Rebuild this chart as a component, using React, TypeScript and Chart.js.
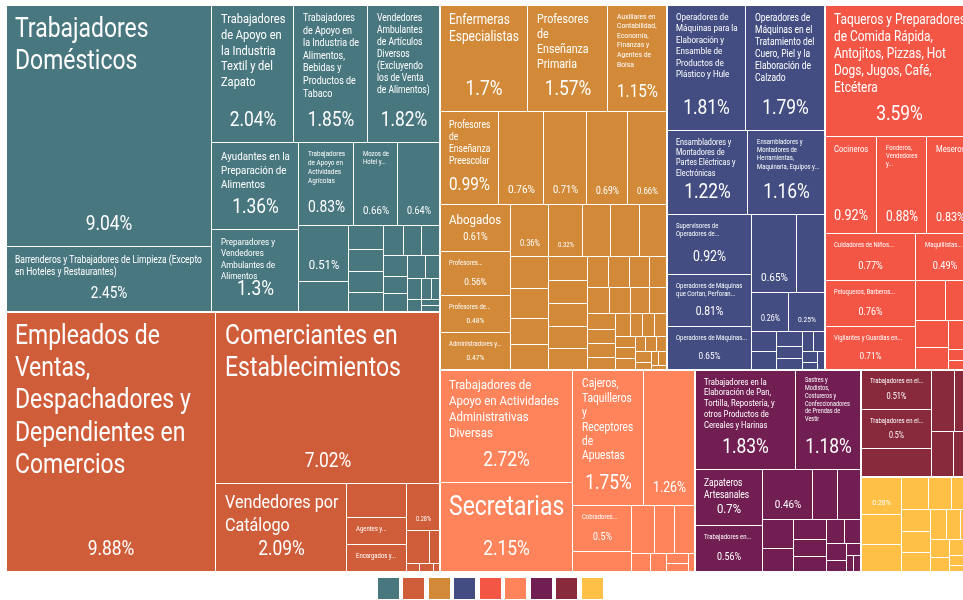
import React, { useEffect, useRef } from "react";
import { Chart, registerables } from "chart.js";

Chart.register(...registerables);

// ---------- DATA (share of workers, %) ----------
const tealNames = [
  "Trabajadores Domésticos",
  "Barrenderos y Trabajadores de Limpieza (Excepto en Hoteles y Restaurantes)",
  "Trabajadores de Apoyo en la Industria Textil y del Zapato",
  "Trabajadores de Apoyo en la Industria de Alimentos, Bebidas y Productos de Tabaco",
  "Vendedores Ambulantes de Artículos Diversos (Excluyendo los de Venta de Alimentos)",
  "Ayudantes en la Preparación de Alimentos",
  "Preparadores y Vendedores Ambulantes de Alimentos",
  "Trabajadores de Apoyo en Actividades Agrícolas",
  "Mozos de Hotel y...",
];
const tealValues = [9.04, 2.45, 2.04, 1.85, 1.82, 1.36, 1.3, 0.83, 0.66, 0.64, 0.51, 0.27, 0.15, 0.14, 0.13, 0.12, 0.11, 0.1, 0.1, 0.09, 0.08, 0.08, 0.07, 0.06, 0.05, 0.04, 0.03, 0.03, 0.02, 0.02];

const orangeNames = [
  "Empleados de Ventas, Despachadores y Dependientes en Comercios",
  "Comerciantes en Establecimientos",
  "Vendedores por Catálogo",
  "",
  "Agentes y...",
  "Encargados y...",
];
const orangeValues = [9.88, 7.02, 2.09, 0.36, 0.3, 0.29, 0.28, 0.14, 0.06, 0.02, 0.02, 0.01];

const ochreNames = [
  "Enfermeras Especialistas",
  "Profesores de Enseñanza Primaria",
  "Auxiliares en Contabilidad, Economía, Finanzas y Agentes de Bolsa",
  "Profesores de Enseñanza Preescolar",
  "", "", "", "",
  "Abogados",
  "Profesores...",
  "Profesores de...",
  "Administradores y...",
];
const ochreValues = [1.7, 1.57, 1.15, 0.99, 0.76, 0.71, 0.69, 0.66, 0.61, 0.56, 0.48, 0.47, 0.36, 0.32, 0.27, 0.27, 0.26, 0.22, 0.2, 0.18, 0.17, 0.17, 0.17, 0.16, 0.16, 0.15, 0.12, 0.12, 0.11, 0.1, 0.1, 0.1, 0.09, 0.08, 0.08, 0.07, 0.07, 0.06, 0.06, 0.05, 0.05, 0.05, 0.04, 0.04, 0.04, 0.03, 0.03, 0.03, 0.03, 0.02, 0.02, 0.02, 0.01];

const blueNames = [
  "Operadores de Máquinas para la Elaboración y Ensamble de Productos de Plástico y Hule",
  "Operadores de Máquinas en el Tratamiento del Cuero, Piel y la Elaboración de Calzado",
  "Ensambladores y Montadores de Partes Eléctricas y Electrónicas",
  "Ensambladores y Montadores de Herramientas, Maquinaria, Equipos y...",
  "Supervisores de Operadores de...",
  "Operadores de Máquinas que Cortan, Perforan...",
  "Operadores de Máquinas...",
];
const blueValues = [1.81, 1.79, 1.22, 1.16, 0.92, 0.81, 0.65, 0.65, 0.39, 0.26, 0.25, 0.09, 0.08, 0.07, 0.06, 0.05, 0.04, 0.04, 0.03, 0.02, 0.02];

const redNames = [
  "Taqueros y Preparadores de Comida Rápida, Antojitos, Pizzas, Hot Dogs, Jugos, Café, Etcétera",
  "Cocineros",
  "Fonderos, Vendedores y...",
  "Meseros",
  "Cuidadores de Niños...",
  "Peluqueros, Barberos...",
  "Vigilantes y Guardias en...",
  "Maquillistas...",
];
const redValues = [3.59, 0.92, 0.88, 0.83, 0.77, 0.76, 0.71, 0.49, 0.22, 0.2, 0.17, 0.13, 0.08, 0.05, 0.04, 0.03, 0.02];

const salmonNames = [
  "Trabajadores de Apoyo en Actividades Administrativas Diversas",
  "Secretarias",
  "Cajeros, Taquilleros y Receptores de Apuestas",
  "",
  "Cobradores...",
];
const salmonValues = [2.72, 2.15, 1.75, 1.26, 0.5, 0.21, 0.2, 0.18, 0.17, 0.06, 0.05, 0.04, 0.03, 0.02];

const purpleNames = [
  "Trabajadores en la Elaboración de Pan, Tortilla, Repostería, y otros Productos de Cereales y Harinas",
  "Sastres y Modistos, Costureros y Confeccionadores de Prendas de Vestir",
  "Zapateros Artesanales",
  "Trabajadores en...",
];
const purpleValues = [1.83, 1.18, 0.7, 0.56, 0.46, 0.23, 0.21, 0.17, 0.13, 0.12, 0.1, 0.09, 0.08, 0.07, 0.06, 0.04, 0.03, 0.02, 0.02];

const wineNames = ["Trabajadores en el...", "Trabajadores en el..."];
const wineValues = [0.51, 0.5, 0.36, 0.26, 0.22, 0.18, 0.16];

const yellowNames: string[] = [];
const yellowValues = [0.28, 0.22, 0.2, 0.16, 0.14, 0.13, 0.12, 0.11, 0.1, 0.09, 0.08, 0.07, 0.06, 0.05, 0.04, 0.03, 0.03, 0.02, 0.02];

const groupNameLists = [tealNames, orangeNames, ochreNames, blueNames, redNames, salmonNames, purpleNames, wineNames, yellowNames];
const groupValueLists = [tealValues, orangeValues, ochreValues, blueValues, redValues, salmonValues, purpleValues, wineValues, yellowValues];

// ---------- STYLE ----------
const groupColors = ["#48777F", "#D05D3A", "#D28A38", "#434D82", "#F45646", "#FF845B", "#711F52", "#89293C", "#FFC048"];
const FONT_FAMILY = "Roboto, 'Noto Sans', sans-serif";
const CONDENSE = 0.85;

type Rect = { x0: number; y0: number; x1: number; y1: number };

// D3-style squarified treemap tiling (golden ratio)
function squarify(values: number[], x0: number, y0: number, x1: number, y1: number): Rect[] {
  const ratio = (1 + Math.sqrt(5)) / 2;
  const out: Rect[] = new Array(values.length);
  let value = values.reduce((a, b) => a + b, 0);
  const n = values.length;
  let i0 = 0;
  let i1 = 0;
  while (i0 < n) {
    const dx = x1 - x0;
    const dy = y1 - y0;
    let sumValue = values[i1++];
    let minValue = sumValue;
    let maxValue = sumValue;
    const alpha = Math.max(dy / dx, dx / dy) / (value * ratio);
    let beta = sumValue * sumValue * alpha;
    let minRatio = Math.max(maxValue / beta, beta / minValue);
    for (; i1 < n; ++i1) {
      const nv = values[i1];
      sumValue += nv;
      if (nv < minValue) minValue = nv;
      if (nv > maxValue) maxValue = nv;
      beta = sumValue * sumValue * alpha;
      const newRatio = Math.max(maxValue / beta, beta / minValue);
      if (newRatio > minRatio) {
        sumValue -= nv;
        break;
      }
      minRatio = newRatio;
    }
    if (dx < dy) {
      const yy = value ? y0 + (dy * sumValue) / value : y1;
      let x = x0;
      const k = dx / sumValue;
      for (let i = i0; i < i1; i++) {
        const w = values[i] * k;
        out[i] = { x0: x, y0, x1: x + w, y1: yy };
        x += w;
      }
      y0 = yy;
    } else {
      const xx = value ? x0 + (dx * sumValue) / value : x1;
      let y = y0;
      const k = dy / sumValue;
      for (let i = i0; i < i1; i++) {
        const h = values[i] * k;
        out[i] = { x0, y0: y, x1: xx, y1: y + h };
        y += h;
      }
      x0 = xx;
    }
    value -= sumValue;
    i0 = i1;
  }
  return out;
}

function setFont(ctx: CanvasRenderingContext2D, size: number) {
  ctx.font = `${size}px ${FONT_FAMILY}`;
}
function textW(ctx: CanvasRenderingContext2D, s: string, size: number) {
  setFont(ctx, size);
  return ctx.measureText(s).width * CONDENSE;
}
function wrap(ctx: CanvasRenderingContext2D, text: string, size: number, maxW: number): string[] | null {
  const words = text.split(" ");
  const lines: string[] = [];
  let cur = "";
  for (const w of words) {
    if (textW(ctx, w, size) > maxW) return null;
    const t = cur ? cur + " " + w : w;
    if (textW(ctx, t, size) <= maxW) cur = t;
    else {
      lines.push(cur);
      cur = w;
    }
  }
  if (cur) lines.push(cur);
  return lines;
}
function drawText(ctx: CanvasRenderingContext2D, s: string, x: number, y: number, size: number, align: CanvasTextAlign) {
  ctx.save();
  ctx.translate(x, y);
  ctx.scale(CONDENSE, 1);
  setFont(ctx, size);
  ctx.textAlign = align;
  ctx.textBaseline = "alphabetic";
  ctx.fillText(s, 0, 0);
  ctx.restore();
}
function fmtShare(v: number) {
  return `${parseFloat(v.toFixed(2))}%`;
}

function drawCellText(ctx: CanvasRenderingContext2D, r: Rect, name: string, value: number) {
  const x0 = Math.round(r.x0), x1 = Math.round(r.x1), y0 = Math.round(r.y0), y1 = Math.round(r.y1);
  const w = x1 - x0;
  const h = y1 - y0;
  if (w < 20 || h < 16) return;
  const padX = 9;
  const shH = Math.min(50, (h - 10) * 0.5);
  const share = fmtShare(value);
  const shareUnit = textW(ctx, share, 100) / 100;
  const shareF = Math.min(20.5, shH * 0.58, (w - 18) / shareUnit);
  const showShare = shareF >= 6.5 && shH >= 12.5;
  const shareCy = y1 - (6.5 + 0.85 * shareF);
  ctx.save();
  ctx.beginPath();
  ctx.rect(x0, y0, w - 1, h - 1);
  ctx.clip();
  ctx.fillStyle = "#ffffff";
  if (name) {
    const truncated = name.endsWith("...");
    const boxW = truncated ? w - 13 : w - 17;
    const boxH = showShare ? Math.min(h - shH + 3, shareCy - shareF * 0.4 - y0 - 4) : h - 10;
    if (boxW > 10 && boxH > 6) {
      const unit = textW(ctx, name, 100) / 100;
      const mod = 1.165 + (boxW / boxH) * 0.1;
      let F = Math.min(truncated ? 7 : 27, Math.sqrt((boxW * boxH) / (unit * 1.2 * mod)));
      F = Math.floor(F * 2) / 2;
      let lines: string[] | null = null;
      for (; F >= 6; F -= 0.5) {
        const l = wrap(ctx, name, F, boxW);
        if (l && l.length * F * 1.2 <= boxH) {
          lines = l;
          break;
        }
      }
      if (lines) {
        lines.forEach((ln, i) => drawText(ctx, ln, x0 + padX, y0 + 6 + i * F * 1.2 + F * 0.95, F, "left"));
      }
    }
  }
  if (showShare) {
    drawText(ctx, share, (x0 + x1) / 2, shareCy + shareF * 0.36, shareF, "center");
  }
  ctx.restore();
}

const treemapPlugin = {
  id: "treemapTiles",
  afterDatasetsDraw(chart: any) {
    const ctx: CanvasRenderingContext2D = chart.ctx;
    const xs = chart.scales.x;
    const ys = chart.scales.y;
    const left = xs.getPixelForValue(0);
    const right = xs.getPixelForValue(1);
    const top = ys.getPixelForValue(1);
    const bottom = ys.getPixelForValue(0);
    const totals = groupValueLists.map((vals) => vals.reduce((a, b) => a + b, 0));
    const groupRects = squarify(totals, left, top, right, bottom);
    const leafRects = groupValueLists.map((vals, gi) => {
      const g = groupRects[gi];
      return squarify(vals, g.x0, g.y0, g.x1, g.y1);
    });
    ctx.save();
    leafRects.forEach((cells, gi) => {
      ctx.fillStyle = groupColors[gi];
      cells.forEach((c) => {
        const x0 = Math.round(c.x0), x1 = Math.round(c.x1), y0 = Math.round(c.y0), y1 = Math.round(c.y1);
        if (x1 - x0 > 1 && y1 - y0 > 1) ctx.fillRect(x0, y0, x1 - x0 - 1, y1 - y0 - 1);
      });
    });
    ctx.strokeStyle = "#ffffff";
    ctx.lineWidth = 2;
    groupRects.forEach((g) => {
      const x0 = Math.round(g.x0), x1 = Math.round(g.x1), y0 = Math.round(g.y0), y1 = Math.round(g.y1);
      ctx.strokeRect(x0, y0, x1 - x0, y1 - y0);
    });
    leafRects.forEach((cells, gi) => {
      const names = groupNameLists[gi];
      const vals = groupValueLists[gi];
      cells.forEach((c, ci) => drawCellText(ctx, c, names[ci] || "", vals[ci]));
    });
    ctx.restore();
  },
};

const swatchLegend = {
  id: "swatchLegend",
  afterDraw(chart: any) {
    const ctx: CanvasRenderingContext2D = chart.ctx;
    const size = 21;
    const gap = 4.5;
    const total = groupColors.length * size + (groupColors.length - 1) * gap;
    let x = (chart.width - total) / 2;
    const y = Math.round(chart.chartArea.bottom + 6);
    ctx.save();
    groupColors.forEach((c) => {
      ctx.fillStyle = c;
      ctx.fillRect(Math.round(x), y, size, size);
      x += size + gap;
    });
    ctx.restore();
  },
};

export default function App() {
  const ref = useRef<HTMLCanvasElement>(null);
  useEffect(() => {
    document.body.style.margin = "0";
    const chart = new Chart(ref.current as HTMLCanvasElement, {
      type: "scatter",
      data: { datasets: [] },
      options: {
        responsive: false,
        animation: false,
        devicePixelRatio: 1,
        layout: { padding: { left: 6, right: 6, top: 5, bottom: 28 } },
        scales: {
          x: { type: "linear", min: 0, max: 1, display: false },
          y: { type: "linear", min: 0, max: 1, display: false },
        },
        plugins: { legend: { display: false }, tooltip: { enabled: false } },
      },
      plugins: [treemapPlugin, swatchLegend],
    } as any);
    return () => chart.destroy();
  }, []);
  return (
    <div style={{ width: 963, height: 600, overflow: "hidden", background: "#ffffff" }}>
      <canvas ref={ref} width={980} height={600} style={{ display: "block" }} />
    </div>
  );
}
